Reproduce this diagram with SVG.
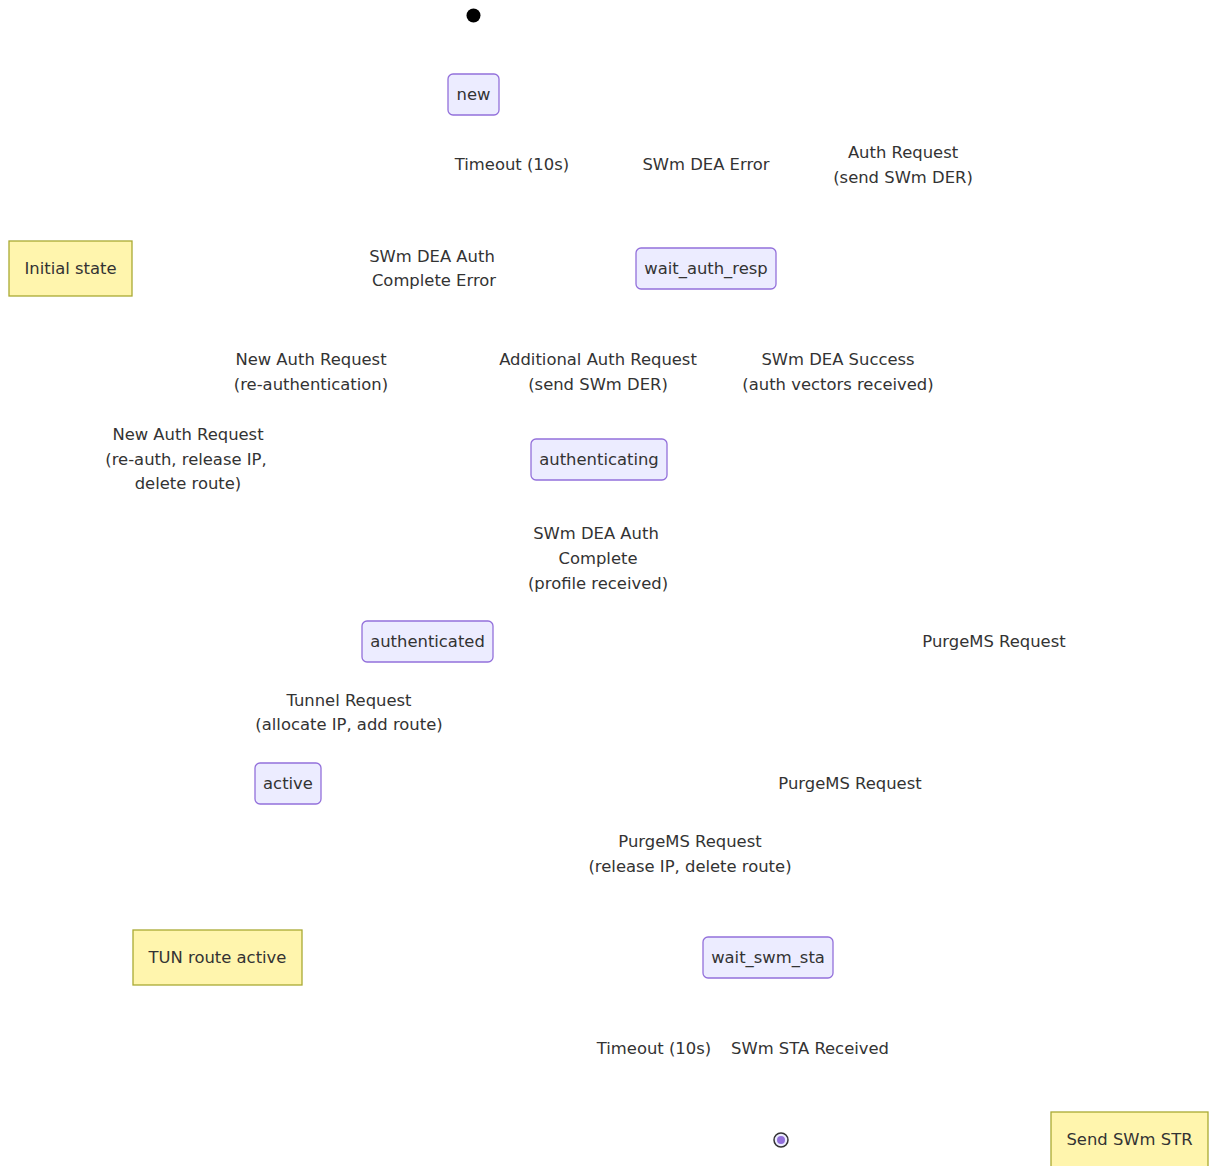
<svg xmlns="http://www.w3.org/2000/svg" width="1209" height="1166" viewBox="0 0 1209 1166">
<style>
text{font-family:"DejaVu Sans","Noto Sans",sans-serif;font-size:16.4px;fill:#333;text-anchor:middle;dominant-baseline:central}
.st{fill:#ECECFF;stroke:#9370DB;stroke-width:1.3}
.note{fill:#fff5ad;stroke:#aaaa33;stroke-width:1.3}
</style>
<rect width="1209" height="1166" fill="#fff"/>
<g id="connectors"></g>
<g id="labels">
<text x="512" y="164">Timeout (10s)</text>
<text x="706" y="164">SWm DEA Error</text>
<text x="903" y="152">Auth Request</text>
<text x="903" y="177">(send SWm DER)</text>
<text x="432" y="256">SWm DEA Auth</text>
<text x="434" y="280">Complete Error</text>
<text x="311" y="359">New Auth Request</text>
<text x="311" y="384">(re-authentication)</text>
<text x="598" y="359">Additional Auth Request</text>
<text x="598" y="384">(send SWm DER)</text>
<text x="838" y="359">SWm DEA Success</text>
<text x="838" y="384">(auth vectors received)</text>
<text x="188" y="434">New Auth Request</text>
<text x="186" y="459">(re-auth, release IP,</text>
<text x="188" y="483">delete route)</text>
<text x="596" y="533">SWm DEA Auth</text>
<text x="598" y="558">Complete</text>
<text x="598" y="583">(profile received)</text>
<text x="994" y="641">PurgeMS Request</text>
<text x="349" y="700">Tunnel Request</text>
<text x="349" y="724">(allocate IP, add route)</text>
<text x="850" y="783">PurgeMS Request</text>
<text x="690" y="841">PurgeMS Request</text>
<text x="690" y="866">(release IP, delete route)</text>
<text x="654" y="1048">Timeout (10s)</text>
<text x="810" y="1048">SWm STA Received</text>
</g>
<g id="start"><circle cx="473.5" cy="15.5" r="7" fill="#000"/></g>
<g id="new"><rect class="st" x="448" y="74" width="51" height="41" rx="5"/><text x="473.5" y="94.5">new</text></g>
<g id="note-initial"><rect class="note" x="9" y="241" width="123" height="55"/><text x="70.5" y="268.5">Initial state</text></g>
<g id="wait_auth_resp"><rect class="st" x="636" y="248" width="140" height="41" rx="5"/><text x="706" y="268.5">wait_auth_resp</text></g>
<g id="authenticating"><rect class="st" x="531" y="439" width="136" height="41" rx="5"/><text x="599" y="459.5">authenticating</text></g>
<g id="authenticated"><rect class="st" x="362" y="621" width="131" height="41" rx="5"/><text x="427.5" y="641.5">authenticated</text></g>
<g id="active"><rect class="st" x="255" y="763" width="66" height="41" rx="5"/><text x="288" y="783.5">active</text></g>
<g id="note-tun"><rect class="note" x="133" y="930" width="169" height="55"/><text x="217.5" y="957.5">TUN route active</text></g>
<g id="wait_swm_sta"><rect class="st" x="703" y="937" width="130" height="41" rx="5"/><text x="768" y="957.5">wait_swm_sta</text></g>
<g id="end"><circle cx="781" cy="1140" r="7" fill="#ECECFF" stroke="#333" stroke-width="1.5"/><circle cx="781" cy="1140" r="4" fill="#9370DB"/></g>
<g id="note-str"><rect class="note" x="1051" y="1112" width="157" height="60"/><text x="1129.5" y="1139">Send SWm STR</text></g>
</svg>
